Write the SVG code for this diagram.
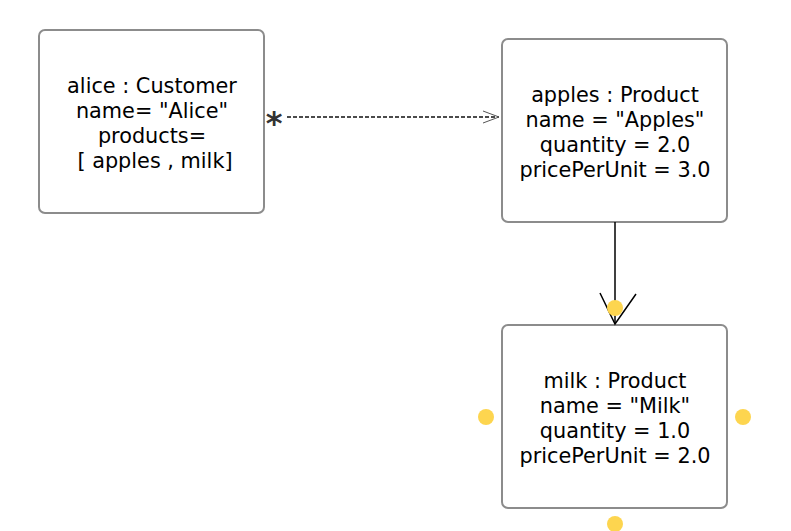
<svg xmlns="http://www.w3.org/2000/svg" width="791" height="531" viewBox="0 0 791 531">
<style>
.box{fill:#fff;stroke:#8c8c8c;stroke-width:2}
.t{font-family:"DejaVu Sans",Verdana,sans-serif;font-size:20.8px;fill:#000;text-anchor:middle}
.dot{fill:#fdd54f}
</style>
<defs>
<marker id="open" markerWidth="20" markerHeight="14" refX="18" refY="7" orient="auto" markerUnits="userSpaceOnUse">
<path d="M2,1 L18,7 L2,13" fill="none" stroke="#555" stroke-width="1"/>
</marker>
</defs>
<g id="alice">
<rect class="box" x="39" y="30" width="225" height="183" rx="6"/>
<text class="t" x="152" y="93">alice : Customer</text>
<text class="t" x="152" y="118">name= "Alice"</text>
<text class="t" x="152" y="143">products=</text>
<text class="t" x="155" y="168">[ apples , milk]</text>
</g>
<g id="apples">
<rect class="box" x="502" y="39" width="225" height="183" rx="6"/>
<text class="t" x="615" y="102">apples : Product</text>
<text class="t" x="615" y="127">name = "Apples"</text>
<text class="t" x="615" y="152">quantity = 2.0</text>
<text class="t" x="615" y="177">pricePerUnit = 3.0</text>
</g>
<g id="milk">
<rect class="box" x="502" y="325" width="225" height="183" rx="6"/>
<text class="t" x="615" y="388">milk : Product</text>
<text class="t" x="615" y="413">name = "Milk"</text>
<text class="t" x="615" y="438">quantity = 1.0</text>
<text class="t" x="615" y="463">pricePerUnit = 2.0</text>
</g>
<g id="connectors">
<line x1="287" y1="117" x2="499" y2="117" stroke="#111" stroke-width="1.3" stroke-dasharray="4,2" marker-end="url(#open)"/>
<text x="274" y="134" font-family="DejaVu Sans,sans-serif" font-size="32" font-weight="bold" fill="#333" text-anchor="middle">*</text>
<line x1="615" y1="222" x2="615" y2="324" stroke="#000" stroke-width="1.5"/>
<path d="M600,293 L615,324 L636,294" fill="none" stroke="#000" stroke-width="1.5"/>
</g>
<g id="handles">
<circle class="dot" cx="615" cy="308" r="8"/>
<circle class="dot" cx="486" cy="417" r="8"/>
<circle class="dot" cx="743" cy="417" r="8"/>
<circle class="dot" cx="615" cy="524" r="8"/>
</g>
</svg>
